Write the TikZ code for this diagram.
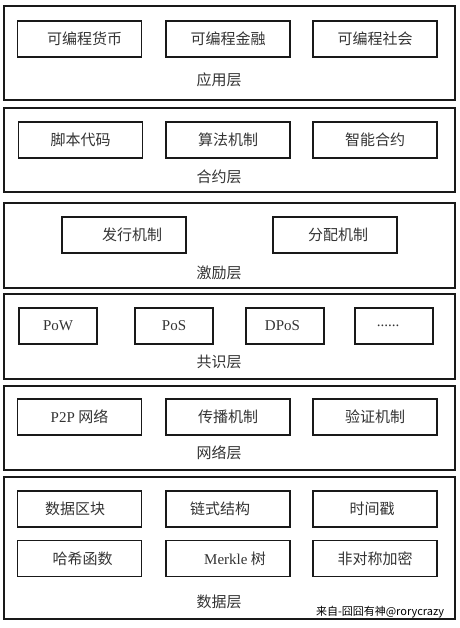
\documentclass[tikz,border=0pt]{standalone}
\usepackage{fontspec}
\setmainfont{Liberation Serif}
\newfontfamily\cjk{Noto Sans CJK SC}
\begin{document}
\begin{tikzpicture}[x=1pt,y=-1pt,
  layer/.style={draw=black!90,line width=1.8pt,minimum width=451pt,inner sep=0pt},
  item/.style={draw=black!90,line width=1.3pt,minimum width=124pt,minimum height=36pt,inner sep=0pt,font=\fontsize{15}{18}\selectfont\cjk,text=black!80},
  smallitem/.style={item,minimum width=78pt},
  lbl/.style={font=\fontsize{15}{18}\selectfont\cjk,text=black!80,inner sep=0pt}]
\useasboundingbox (0,0) rectangle (459,628);
% layers
\node[layer,minimum height=94pt] (L1) at (229.5,53) {};
\node[layer,minimum height=84pt] (L2) at (229.5,150) {};
\node[layer,minimum height=85pt] (L3) at (229.5,245.5) {};
\node[layer,minimum height=85pt] (L4) at (229.5,336.5) {};
\node[layer,minimum height=84pt] (L5) at (229.5,428) {};
\node[layer,minimum height=142pt] (L6) at (229.5,548) {};
% application layer
\node[item] (a1) at (79.5,39) {\hspace*{10pt}可编程货币};
\node[item] (a2) at (228,39) {可编程金融};
\node[item] (a3) at (375,39) {可编程社会};
\node[lbl] (la) at (219,80) {应用层};
% contract layer
\node[item] (b1) at (80.5,140) {脚本代码};
\node[item] (b2) at (228,140) {算法机制};
\node[item] (b3) at (375,140) {智能合约};
\node[lbl] (lb) at (219,177) {合约层};
% incentive layer
\node[item] (c1) at (124,235) {\hspace*{16pt}发行机制};
\node[item] (c2) at (335,235) {\hspace*{6pt}分配机制};
\node[lbl] (lc) at (219,273) {激励层};
% consensus layer
\node[smallitem,font=\fontsize{15}{18}\selectfont\rmfamily] (d1) at (58,326) {PoW};
\node[smallitem,font=\fontsize{15}{18}\selectfont\rmfamily] (d2) at (174,326) {PoS};
\node[smallitem,font=\fontsize{15}{18}\selectfont\rmfamily] (d3) at (285,326) {DPoS\hspace*{5pt}};
\node[smallitem,font=\fontsize{15}{18}\selectfont\rmfamily] (d4) at (394,326) {\raisebox{1pt}{......}\hspace*{12pt}};
\node[lbl] (ld) at (219,362) {共识层};
% network layer
\node[item] (e1) at (79.5,417) {{\rmfamily P2P} 网络};
\node[item] (e2) at (228,417) {传播机制};
\node[item] (e3) at (375,417) {验证机制};
\node[lbl] (le) at (219,453) {网络层};
% data layer
\node[item] (f1) at (79.5,509) {数据区块\hspace*{9pt}};
\node[item] (f2) at (228,509) {链式结构\hspace*{16pt}};
\node[item] (f3) at (375,509) {时间戳\hspace*{6pt}};
\node[item] (f4) at (79.5,558.5) {\hspace*{6pt}哈希函数};
\node[item] (f5) at (228,558.5) {\hspace*{14pt}{\rmfamily Merkle} 树};
\node[item] (f6) at (375,558.5) {非对称加密};
\node[lbl] (lf) at (219,602) {数据层};
\node[font=\fontsize{11}{13}\selectfont\cjk,text=black,inner sep=0pt] (wm) at (380,612) {来自-囧囧有神@rorycrazy};
\end{tikzpicture}
\end{document}
